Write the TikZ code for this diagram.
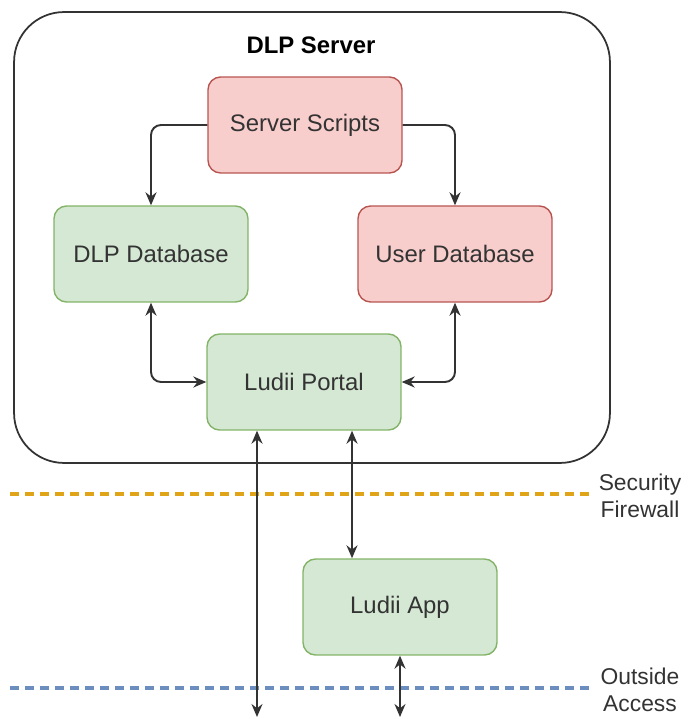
\documentclass[tikz,border=0pt]{standalone}
\usepackage{fontspec}
\setmainfont{Liberation Sans}
\usetikzlibrary{arrows.meta,positioning,calc}
\usepackage{xcolor}
\definecolor{redfill}{HTML}{F8CECC}
\definecolor{redline}{HTML}{B85450}
\definecolor{greenfill}{HTML}{D5E8D4}
\definecolor{greenline}{HTML}{82B366}
\definecolor{dark}{HTML}{333333}
\definecolor{fwline}{HTML}{E0A418}
\definecolor{oaline}{HTML}{6C8EBF}
\tikzset{
  box/.style={draw, rounded corners=2.5mm, line width=0.8pt, align=center, minimum width=3.88cm, minimum height=1.92cm, text=dark, font=\fontsize{13.6}{16}\selectfont},
  redbox/.style={box, fill=redfill, draw=redline},
  greenbox/.style={box, fill=greenfill, draw=greenline},
  serverbox/.style={draw=dark, rounded corners=1cm, line width=1pt, minimum width=11.92cm, minimum height=9.02cm},
  arrow/.style={-{Stealth[length=2.6mm,width=2.2mm]}, line width=1.1pt, draw=dark, rounded corners=2mm},
  twoway/.style={arrow, {Stealth[length=2.6mm,width=2.2mm]}-{Stealth[length=2.6mm,width=2.2mm]}},
  zone/.style={dash pattern=on 1.8mm off 1.2mm, line width=1.9pt},
  zonelabel/.style={align=center, text=dark, font=\fontsize{13}{15.5}\selectfont}
}
\begin{document}
\begin{tikzpicture}[x=0.02cm, y=-0.02cm]
  \useasboundingbox (0,0) rectangle (687,719);
  % DLP server frame
  \node[serverbox] (server) at (312,237.5) {};
  \node[font=\fontsize{13.6}{16}\selectfont\bfseries, text=black] (title) at (311,45) {DLP Server};
  \node[redbox] (scripts) at (305,125) {Server Scripts};
  \node[greenbox] (dlpdb) at (151,254) {DLP Database};
  \node[redbox] (userdb) at (455,254) {User Database};
  \node[greenbox] (portal) at (304,382) {Ludii Portal};
  \node[greenbox] (app) at (400,607) {Ludii App};
  % zones
  \draw[zone, draw=fwline] (10,494) -- (590,494);
  \draw[zone, draw=oaline] (10,688) -- (590,688);
  \node[zonelabel] (firewall) at (640,496) {Security\\Firewall};
  \node[zonelabel] (outside) at (640,690) {Outside\\Access};
  % connectors
  \coordinate (exitL) at (257,717);
  \coordinate (exitR) at (app.south |- exitL);
  \coordinate (appin) at ([xshift=-0.96cm]app.north);
  \draw[arrow] (scripts.west) -| (dlpdb.north);
  \draw[arrow] (scripts.east) -| (userdb.north);
  \draw[twoway] (dlpdb.south) |- (portal.west);
  \draw[twoway] (userdb.south) |- (portal.east);
  \draw[twoway] (exitL |- portal.south) -- (exitL);
  \draw[twoway] (appin |- portal.south) -- (appin);
  \draw[twoway] (app.south) -- (exitR);
\end{tikzpicture}
\end{document}
